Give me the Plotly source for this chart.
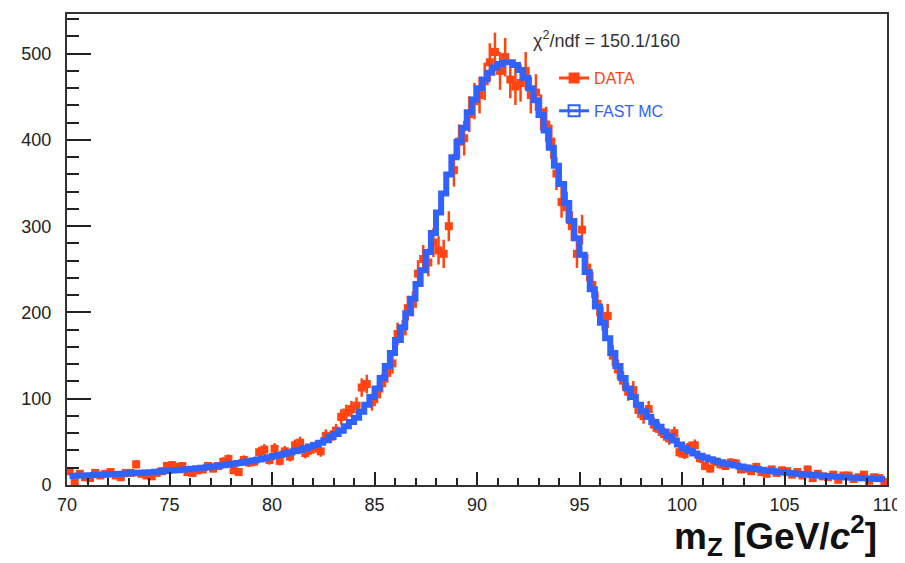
import plotly.graph_objects as go

# Bin centres: 160 bins of 0.25 GeV from 70 to 110
bin_low = 70.0
bin_width = 0.25
n_bins = 160
centers = [bin_low + bin_width * (i + 0.5) for i in range(n_bins)]

mc_values = [
    10.4, 10.6, 10.9, 11.1,  11.4, 11.6, 11.9, 12.1,  12.4, 12.7, 13.0, 13.3,
    13.6, 13.9, 14.2, 14.6,  14.9, 15.3, 15.8, 16.2,  16.7, 17.2, 17.7, 18.2,
    18.8, 19.4, 20.1, 20.7,  21.4, 22.2, 23.0, 23.8,  24.6, 25.5, 26.5, 27.5,
    28.5, 29.6, 30.8, 32.1,  33.5, 34.8, 36.2, 37.6,  39.0, 40.5, 42.5, 44.5,
    46.5, 49.0, 52.0, 55.5,  59.0, 63.0, 68.0, 73.0,  78.0, 85.0, 93.0, 102.0,
    112.0, 124.0, 138.0, 153.0,  168.0, 183.0, 199.0, 216.0,  233.0, 249.0, 270.0, 292.0,
    316.0, 338.0, 360.0, 380.0,  398.0, 414.0, 432.0, 447.0,  460.0, 470.0, 478.0, 484.0,
    488.0, 490.0, 490.0, 487.0,  481.0, 472.0, 460.0, 446.0,  429.0, 411.0, 391.0, 370.0,
    349.0, 327.0, 306.0, 286.0,  267.0, 247.0, 227.0, 207.0,  188.0, 170.0, 153.0, 138.0,
    124.0, 112.0, 102.0, 93.0,  85.5, 79.0, 73.0, 67.5,  62.0, 56.5, 51.5, 47.0,
    43.0, 39.5, 36.5, 34.0,  31.8, 29.8, 28.0, 26.4,  25.0, 23.7, 22.5, 21.4,
    20.4, 19.4, 18.5, 17.7,  16.9, 16.2, 15.5, 14.9,  14.3, 13.7, 13.1, 12.6,
    12.1, 11.6, 11.1, 10.7,  10.3, 9.9, 9.5, 9.1,  8.8, 8.5, 8.2, 7.9,
    7.6, 7.3, 7.0, 6.7,
]

data_values = [
    16, 4, 13, 9,  8, 14, 11, 13,  15, 11, 9, 14,
    14, 24, 13, 11,  10, 14, 16, 22,  23, 21, 22, 15,
    14, 17, 18, 22,  19, 22, 27, 30,  17, 15, 29, 26,
    27, 38, 41, 29,  42, 28, 39, 33,  46, 49, 37, 41,
    44, 39, 57, 56,  63, 79, 84, 88,  92, 113, 117, 96,
    105, 118, 130, 141,  175, 178, 205, 210,  245, 262, 258, 281,
    272, 268, 300, 365,  398, 402, 430, 445,  452, 468, 490, 502,
    480, 496, 470, 462,  466, 480, 452, 455,  432, 418, 398, 361,
    328, 322, 300, 268,  296, 252, 232, 210,  193, 196, 150, 134,
    121, 108, 110, 87,  80, 88, 70, 65,  59, 54, 60, 38,
    36, 44, 46, 31,  22, 19, 27, 24,  22, 26, 25, 18,
    19, 16, 21, 15,  13, 18, 14, 17,  16, 12, 15, 11,
    18, 8, 13, 10,  9, 12, 6, 11,  11, 7, 9, 12,
    5, 9, 8, 4,
]

data_errors = [v ** 0.5 for v in data_values]

x_range = [70, 110]
y_range = [0, 546]
x_major = [70, 75, 80, 85, 90, 95, 100, 105, 110]
y_major = [0, 100, 200, 300, 400, 500]

chi2_text = "χ<sup>2</sup>/ndf = 150.1/160"
data_label = "DATA"
mc_label = "FAST MC"
x_title = "m<sub>Z</sub> [GeV/<i>c</i><sup>2</sup>]"

red = "#ff4412"
blue = "#2f62ff"

fig = go.Figure()

fig.add_trace(go.Scatter(
    x=centers, y=data_values, mode="markers",
    marker=dict(symbol="square", size=8, color=red),
    error_y=dict(type="data", array=data_errors, color=red, thickness=2.5, width=0),
    error_x=dict(type="constant", value=bin_width / 2, color=red, thickness=2.5, width=0),
    showlegend=False, hoverinfo="skip",
))

fig.add_trace(go.Scatter(
    x=centers, y=mc_values, mode="lines",
    line=dict(color=blue, width=6, shape="hvh"),
    showlegend=False, hoverinfo="skip",
))

# legend entries
fig.add_trace(go.Scatter(
    x=[None], y=[None], mode="lines+markers", legendgroup="data",
    line=dict(color=red, width=3),
    marker=dict(symbol="square", size=11, color=red),
    name=f"<span style='color:{red}'>{data_label}</span>",
))
fig.add_trace(go.Scatter(
    x=[None], y=[None], mode="lines+markers", legendgroup="mc",
    line=dict(color=blue, width=3),
    marker=dict(symbol="square-open", size=11, color=blue, line=dict(width=2)),
    name=f"<span style='color:{blue}'>{mc_label}</span>",
))

axis_font = dict(family="Liberation Sans, Arial, sans-serif", size=18, color="#222")

fig.update_layout(
    width=897, height=555,
    margin=dict(l=59, r=14, t=4, b=78),
    paper_bgcolor="white", plot_bgcolor="white",
    showlegend=True,
    legend=dict(
        x=0.594, y=0.90, xanchor="left", yanchor="top",
        bgcolor="rgba(0,0,0,0)", borderwidth=0,
        font=dict(family="Liberation Sans, Arial, sans-serif", size=16),
        tracegroupgap=9,
    ),
    xaxis=dict(
        range=x_range, tickmode="array", tickvals=x_major,
        ticks="inside", ticklen=13, tickwidth=2, tickcolor="#222",
        minor=dict(dtick=1, ticks="inside", ticklen=7, tickwidth=2, tickcolor="#222"),
        showgrid=False, zeroline=False,
        showline=True, linecolor="#333", linewidth=2, mirror=True,
        tickfont=axis_font, ticklabelstandoff=2, ticklabeloverflow="allow",
    ),
    yaxis=dict(
        range=y_range, tickmode="array", tickvals=y_major,
        ticks="inside", ticklen=24, tickwidth=2, tickcolor="#222",
        minor=dict(dtick=20, ticks="inside", ticklen=12, tickwidth=2, tickcolor="#222"),
        showgrid=False, zeroline=False,
        showline=True, linecolor="#333", linewidth=2, mirror=True,
        tickfont=axis_font, ticklabelstandoff=10,
    ),
    annotations=[
        dict(x=0.566, y=0.945, xref="paper", yref="paper", xanchor="left", yanchor="middle",
             text=chi2_text, showarrow=False,
             font=dict(family="Liberation Sans, Arial, sans-serif", size=18, color="#333")),
        dict(x=0.99, y=-0.108, xref="paper", yref="paper", xanchor="right", yanchor="middle",
             text=f"<b>{x_title}</b>", showarrow=False,
             font=dict(family="Liberation Sans, Arial, sans-serif", size=37, color="#111")),
    ],
)

fig.write_html("out.html")
